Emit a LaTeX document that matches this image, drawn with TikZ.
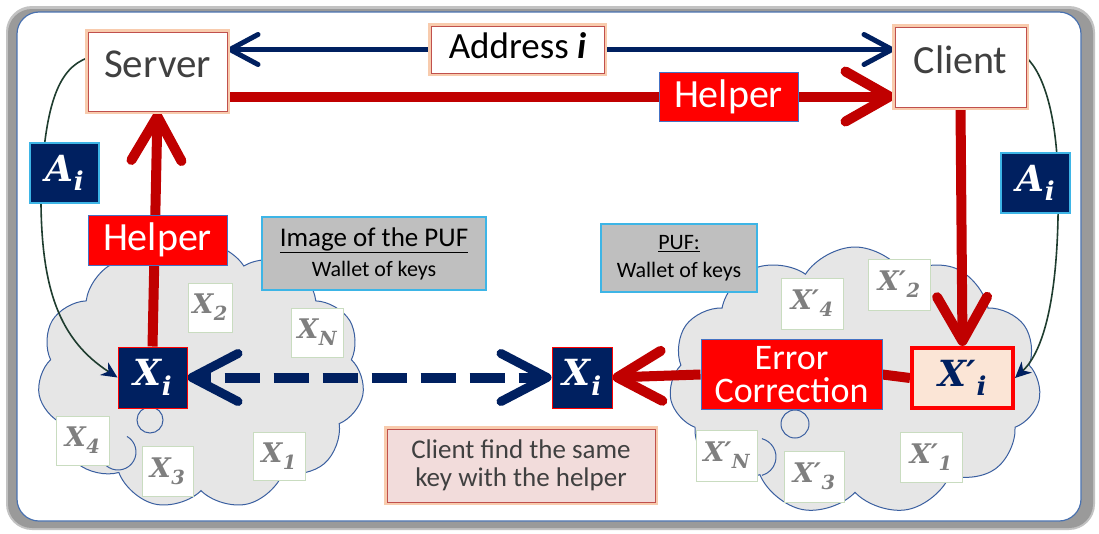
\RequirePackage{fix-cm}
\documentclass[tikz,border=0pt]{standalone}
\usepackage{fontspec}
\setmainfont{Carlito}
\newfontfamily\keyfont{DejaVu Serif}
\usepackage{graphicx}
\usetikzlibrary{arrows.meta,shapes.symbols}
\definecolor{navy}{HTML}{002060}
\definecolor{dred}{HTML}{C00000}
\definecolor{bred}{HTML}{FF0000}
\definecolor{frameblue}{HTML}{4A72B0}
\definecolor{cloudfill}{HTML}{E6E6E6}
\definecolor{cloudline}{HTML}{3A5FA0}
\definecolor{graybox}{HTML}{BFBFBF}
\definecolor{skyline}{HTML}{3DB5E6}
\definecolor{boxred}{HTML}{C0504D}
\definecolor{glowc}{HTML}{F8CBAD}
\definecolor{pinkfill}{HTML}{F2DCDB}
\definecolor{peach}{HTML}{FBE5D6}
\definecolor{keyline}{HTML}{C9DCC0}
\definecolor{keytext}{HTML}{7F7F7F}
\definecolor{darktext}{HTML}{404040}
\definecolor{curvec}{HTML}{1F3D2F}
\definecolor{helperline}{HTML}{4472C4}
\definecolor{shadowgray}{HTML}{9A9A9A}
\newcommand{\setfs}[2]{\fontsize{#1}{#2}\selectfont}
% variable: base letter, optional prime, subscript
\newcommand{\vv}[3]{{\keyfont\bfseries\itshape #1#2\kern0.02em\raisebox{-0.26em}{\scalebox{0.72}{#3}}}}
\newcommand{\pr}{′}
\pgfdeclarelayer{back}
\pgfdeclarelayer{mid}
\pgfsetlayers{back,mid,main}
\tikzset{
  box/.style={rectangle, inner sep=0pt, align=center},
  whitebox/.style={box, fill=white, draw=boxred, line width=1pt, preaction={draw=glowc, line width=6pt}, text=darktext},
  helperbox/.style={box, fill=bred, draw=helperline, line width=0.8pt, text=white, font=\setfs{40}{44}},
  abox/.style={box, fill=navy, draw=skyline, line width=1.2pt, text=white, font=\setfs{36}{40}},
  graylabel/.style={box, fill=graybox, draw=skyline, line width=1.2pt, text=black},
  xbox/.style={box, fill=navy, draw=bred, line width=1pt, text=white, font=\setfs{36}{40}},
  keybox/.style={box, fill=white, draw=keyline, line width=1pt, text=keytext, font=\setfs{27}{30}},
  puffcloud/.style={cloud, cloud puffs=11, cloud puff arc=115, cloud ignores aspect, draw=cloudline, line width=1pt, fill=cloudfill, inner sep=0pt},
  thickred/.style={draw=dred, line width=10pt},
  redtip/.style={-{Straight Barb[length=44pt,width=50pt,round]}},
  curvearrow/.style={draw=curvec, line width=1.6pt, -{Stealth[length=16pt,width=15pt,inset=5pt,color=navy]}},
}
\begin{document}
\begin{tikzpicture}[x=1pt,y=-1pt]
\useasboundingbox (0,0) rectangle (1099,533);
% frame
\begin{pgfonlayer}{back}
\fill[shadowgray!60, rounded corners=26pt] (6,6) rectangle (1095,530);
\fill[shadowgray, rounded corners=24pt] (8,9) rectangle (1093,528);
\filldraw[fill=white, draw=frameblue, line width=1.2pt, rounded corners=22pt] (17,12) rectangle (1081,521);
% clouds
\node[puffcloud, minimum width=327pt, minimum height=267pt] (cloudL) at (201,376) {};
\node[puffcloud, minimum width=372pt, minimum height=268pt] (cloudR) at (855,381) {};
\draw[cloudline, line width=1pt] (150,420) circle[radius=13];
\draw[cloudline, line width=1pt] (118,452) ++(-60:18) arc[start angle=-60, end angle=200, radius=18];
\draw[cloudline, line width=1pt] (795,424) circle[radius=14];
\draw[cloudline, line width=1pt] (757,457) ++(-75:19) arc[start angle=-75, end angle=75, radius=19];
\end{pgfonlayer}

% boxes
\node[whitebox, minimum width=139pt, minimum height=79pt, font=\setfs{41}{44}, text depth=14pt] (server) at (157.5,71.5) {Server};
\node[whitebox, minimum width=131pt, minimum height=80pt, font=\setfs{40}{44}, text depth=14pt] (client) at (960.5,67) {Client};
\node[whitebox, minimum width=173pt, minimum height=47pt, font=\setfs{37}{40}, text=black, text depth=8pt] (addr) at (517.5,49.5) {Address \textbf{\textit{i}}};
\node[helperbox, minimum width=139pt, minimum height=49pt] (helperT) at (728.5,96.5) {Helper};
\node[helperbox, minimum width=139pt, minimum height=50pt] (helperL) at (157.5,240) {Helper};
\node[abox, minimum width=69pt, minimum height=60pt] (aL) at (64.5,173) {\vv{A}{}{i}};
\node[abox, minimum width=69pt, minimum height=60pt] (aR) at (1035.5,183) {\vv{A}{}{i}};
\node[graylabel, minimum width=224pt, minimum height=73pt, font=\setfs{22}{30}] (imgpuf) at (374,253.5) {{\setfs{27}{30}\underline{Image of the PUF}}\\Wallet of keys};
\node[graylabel, minimum width=156pt, minimum height=68pt, font=\setfs{22}{28}] (puf) at (679,258) {\underline{PUF:}\\Wallet of keys};
\node[xbox, minimum width=69pt, minimum height=61pt] (xiL) at (152.5,377.5) {\vv{X}{}{i}};
\node[xbox, minimum width=60pt, minimum height=61pt] (xiM) at (582,377.5) {\vv{X}{}{i}};
\node[box, fill=peach, draw=bred, line width=4pt, minimum width=101pt, minimum height=60pt, text=navy, font=\setfs{36}{40}] (xiR) at (962.5,378) {\vv{X}{\pr}{i}};
\node[box, fill=bred, draw=helperline, line width=1pt, minimum width=181pt, minimum height=70pt, text=white, font=\setfs{36}{33}] (ec) at (791.5,374.5) {Error\\Correction};
\node[whitebox, fill=pinkfill, minimum width=268pt, minimum height=73pt, font=\setfs{27}{28}] (note) at (521,465.5) {Client find the same\\key with the helper};
% keys
\node[keybox, minimum width=44pt, minimum height=49pt] (x2) at (210,307.5) {\vv{X}{}{2}};
\node[keybox, minimum width=52pt, minimum height=49pt] (xN) at (317,332.5) {\vv{X}{}{N}};
\node[keybox, minimum width=53pt, minimum height=49pt] (x4) at (82.5,440.5) {\vv{X}{}{4}};
\node[keybox, minimum width=51pt, minimum height=50pt] (x3) at (167.5,471) {\vv{X}{}{3}};
\node[keybox, minimum width=52pt, minimum height=48pt] (x1) at (279,456) {\vv{X}{}{1}};
\node[keybox, minimum width=62pt, minimum height=51pt] (xp4) at (812,303.5) {\vv{X}{\pr}{4}};
\node[keybox, minimum width=62pt, minimum height=51pt] (xp2) at (899,284.5) {\vv{X}{\pr}{2}};
\node[keybox, minimum width=61pt, minimum height=51pt] (xpN) at (726.5,455.5) {\vv{X}{\pr}{N}};
\node[keybox, minimum width=60pt, minimum height=51pt] (xp3) at (814,476.5) {\vv{X}{\pr}{3}};
\node[keybox, minimum width=62pt, minimum height=50pt] (xp1) at (931,457) {\vv{X}{\pr}{1}};

% connectors
\begin{pgfonlayer}{mid}
\draw[navy, line width=5pt, {Straight Barb[length=28pt,width=30pt,round]}-{Straight Barb[length=28pt,width=30pt,round]}]
  (server.east |- addr.center) -- (client.west |- addr.center);
\draw[thickred, redtip] (server.east |- helperT.center) -- (client.west |- helperT.center);
\draw[thickred, redtip] (xiL.north) -- (server.south);
\draw[thickred, redtip] (client.south) -- (xiR.north);
\draw[thickred] (xiR.west) -- (ec.east);
\draw[thickred, redtip] (ec.west) -- (xiM.east);
\draw[navy, line width=10pt, dash pattern=on 35pt off 14pt, dash phase=21pt,
  {Straight Barb[length=46pt,width=48pt,round,line width=9pt]}-{Straight Barb[length=46pt,width=48pt,round,line width=9pt]}]
  (xiL.east) -- (xiM.west);
\draw[curvearrow] (server.169) .. controls (60,68) and (45,100) .. (41,190) .. controls (40,290) and (60,340) .. (xiL.west);
\draw[curvearrow] (client.8) .. controls (1045,75) and (1057,120) .. (1058,180) .. controls (1060,290) and (1045,350) .. (xiR.east);
\end{pgfonlayer}
\end{tikzpicture}
\end{document}
